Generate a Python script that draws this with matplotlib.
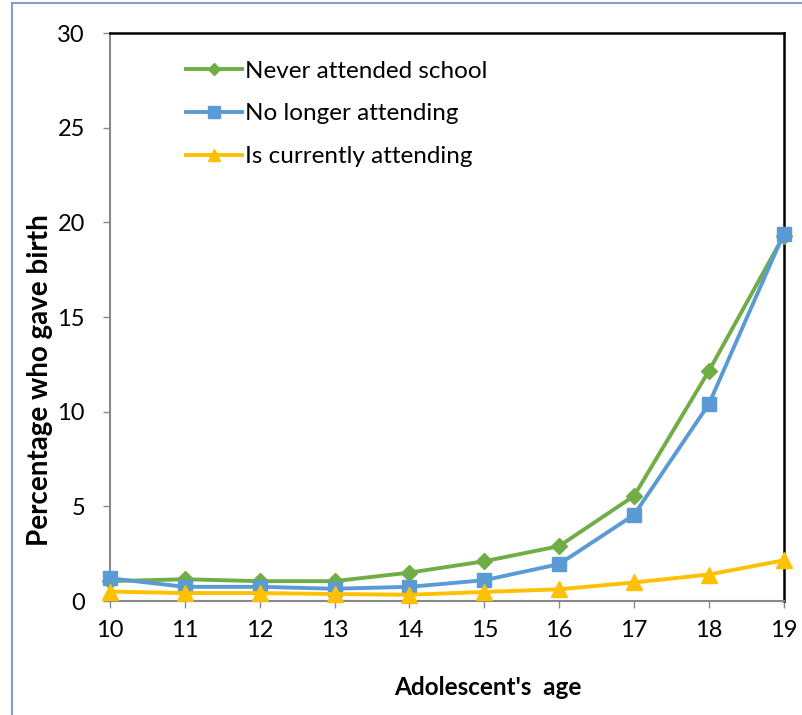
import matplotlib
matplotlib.use("Agg")
import matplotlib.pyplot as plt
from matplotlib.lines import Line2D

plt.rcParams['font.family'] = ['Lato', 'DejaVu Sans']

ages = [10, 11, 12, 13, 14, 15, 16, 17, 18, 19]
never_attended = [1.05, 1.15, 1.05, 1.05, 1.5, 2.1, 2.9, 5.55, 12.15, 19.3]
no_longer = [1.2, 0.75, 0.75, 0.65, 0.75, 1.1, 1.95, 4.55, 10.4, 19.4]
currently = [0.5, 0.42, 0.42, 0.37, 0.33, 0.48, 0.62, 0.98, 1.4, 2.15]

fig = plt.figure(figsize=(8.03, 7.15), dpi=100)
ax = fig.add_axes([0.137, 0.1594, 0.839, 0.7944])

# thin outer frame (left and top edges visible)
fig.add_artist(Line2D([12 / 803, 12 / 803], [0, 1 - 3 / 715], transform=fig.transFigure,
                      color='#7F9FD5', lw=1.5))
fig.add_artist(Line2D([12 / 803, 1], [1 - 3 / 715, 1 - 3 / 715], transform=fig.transFigure,
                      color='#7F9FD5', lw=1.5))

ax.plot(ages, never_attended, color='#70AD47', lw=2.8, marker='D', ms=8.5,
        label='Never attended school', zorder=3)
ax.plot(ages, no_longer, color='#5B9BD5', lw=2.8, marker='s', ms=10.5,
        label='No longer attending', zorder=4)
ax.plot(ages, currently, color='#FFC000', lw=2.8, marker='^', ms=12,
        label='Is currently attending', zorder=5)

ax.set_xlim(10, 19)
ax.set_ylim(0, 30)
ax.set_xticks(ages)
ax.set_yticks([0, 5, 10, 15, 20, 25, 30])
ax.tick_params(axis='both', labelsize=17, color='#888888', length=5, width=1)
ax.tick_params(axis='x', pad=9)
ax.tick_params(axis='y', pad=13)

for side in ['left', 'bottom']:
    ax.spines[side].set_color('#888888')
    ax.spines[side].set_linewidth(1.5)
for side in ['top', 'right']:
    ax.spines[side].set_color('black')
    ax.spines[side].set_linewidth(1.8)

ax.set_xlabel("Adolescent's  age", fontsize=17.5, fontweight='bold', va='center', ha='center')
ax.set_ylabel('Percentage who gave birth', fontsize=20, fontweight='bold', va='center', ha='center')
ax.xaxis.set_label_coords(0.561, -0.153)
ax.yaxis.set_label_coords(-0.104, 0.389)

leg = ax.legend(loc='upper left', bbox_to_anchor=(0.08, 0.99), frameon=False, fontsize=17.5,
                handlelength=2.3, handletextpad=0.15, labelspacing=0.9)
for h, ms in zip(leg.legend_handles, [6.5, 8, 8.5]):
    h.set_markersize(ms)

for line in ax.lines:
    line.set_clip_on(False)

fig.savefig('out.png', dpi=100)
